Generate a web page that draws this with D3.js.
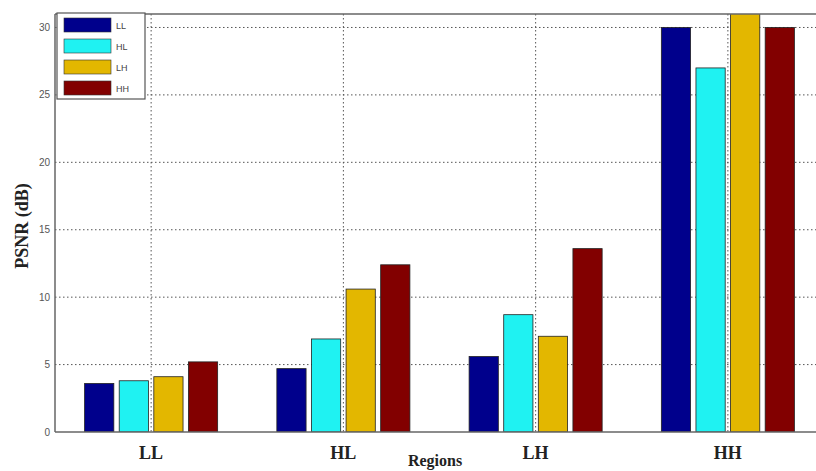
<!DOCTYPE html>
<html>
<head>
<meta charset="utf-8">
<script src="https://cdn.jsdelivr.net/npm/d3@7"></script>
<style>
body { margin: 0; background: #fff; }
svg { display: block; }
</style>
</head>
<body>
<svg id="chart"></svg>
<script>
var width = 816
var height = 471

var regions = ["LL", "HL", "LH", "HH"]
var series = ["LL", "HL", "LH", "HH"]
var colors = ["#00008c", "#1ff2f2", "#e3b700", "#820000"]
// values per region, one per series
var valuesLL = [3.6, 3.8, 4.1, 5.2]
var valuesHL = [4.7, 6.9, 10.6, 12.4]
var valuesLH = [5.6, 8.7, 7.1, 13.6]
var valuesHH = [30, 27, 32, 30]
var yTicks = [0, 5, 10, 15, 20, 25, 30]

var allValues = [valuesLL, valuesHL, valuesLH, valuesHH]

var plotLeft = 55, plotTop = 14, plotRight = 824, plotBottom = 432

var svg = d3.select("#chart")
	.attr("width", width)
	.attr("height", height)

var x = d3.scaleLinear().domain([0.5, 4.5]).range([plotLeft, plotRight])
var y = d3.scaleLinear().domain([0, 31]).range([plotBottom, plotTop])

svg.append("defs").append("clipPath").attr("id", "plotclip")
	.append("rect")
	.attr("x", plotLeft).attr("y", plotTop)
	.attr("width", plotRight - plotLeft).attr("height", plotBottom - plotTop)

// grid
svg.append("g").selectAll("line")
	.data(yTicks.slice(1))
	.join("line")
	.attr("x1", plotLeft).attr("x2", plotRight)
	.attr("y1", function(d){ return y(d) })
	.attr("y2", function(d){ return y(d) })
	.attr("stroke", "#555")
	.attr("stroke-width", 1)
	.attr("stroke-dasharray", "1.5,2.5")

svg.append("g").selectAll("line")
	.data(regions)
	.join("line")
	.attr("x1", function(d, i){ return x(i + 1) })
	.attr("x2", function(d, i){ return x(i + 1) })
	.attr("y1", plotTop).attr("y2", plotBottom)
	.attr("stroke", "#555")
	.attr("stroke-width", 1)
	.attr("stroke-dasharray", "1.5,2.5")

// bars
var barW = 0.152, step = 0.18
var groups = svg.append("g").attr("clip-path", "url(#plotclip)")
	.selectAll("g")
	.data(allValues)
	.join("g")

groups.selectAll("rect")
	.data(function(d, gi){ return d.map(function(v, si){ return {g: gi, s: si, v: v} }) })
	.join("rect")
	.attr("x", function(d){ return x(d.g + 1 + (d.s - 1.5) * step - barW / 2) })
	.attr("width", function(d){ return x(barW) - x(0) })
	.attr("y", function(d){ return y(d.v) })
	.attr("height", function(d){ return y(0) - y(d.v) })
	.attr("fill", function(d){ return colors[d.s] })
	.attr("stroke", "#222")
	.attr("stroke-width", 0.8)

// axes box
svg.append("line").attr("x1", plotLeft).attr("x2", plotLeft).attr("y1", plotTop).attr("y2", plotBottom)
	.attr("stroke", "#666").attr("stroke-width", 1.5)
svg.append("line").attr("x1", plotLeft).attr("x2", plotRight).attr("y1", plotBottom).attr("y2", plotBottom)
	.attr("stroke", "#666").attr("stroke-width", 1.5)
svg.append("line").attr("x1", plotLeft).attr("x2", plotRight).attr("y1", plotTop).attr("y2", plotTop)
	.attr("stroke", "#666").attr("stroke-width", 1.5)

// y tick labels
svg.append("g").selectAll("text")
	.data(yTicks)
	.join("text")
	.attr("x", plotLeft - 5)
	.attr("y", function(d){ return y(d) + 3.5 })
	.attr("text-anchor", "end")
	.attr("font-family", "Liberation Sans, Arial, sans-serif")
	.attr("font-size", 10)
	.attr("fill", "#555")
	.text(function(d){ return d })

// x tick labels
svg.append("g").selectAll("text")
	.data(regions)
	.join("text")
	.attr("x", function(d, i){ return x(i + 1) })
	.attr("y", 459)
	.attr("text-anchor", "middle")
	.attr("font-family", "Liberation Serif, Times New Roman, serif")
	.attr("font-weight", "bold")
	.attr("font-size", 18)
	.attr("fill", "#222")
	.text(function(d){ return d })

svg.append("text")
	.attr("x", 435).attr("y", 466)
	.attr("text-anchor", "middle")
	.attr("font-family", "Liberation Serif, Times New Roman, serif")
	.attr("font-weight", "bold")
	.attr("font-size", 16)
	.attr("fill", "#222")
	.text("Regions")

svg.append("text")
	.attr("transform", "translate(28," + 226 + ") rotate(-90)")
	.attr("text-anchor", "middle")
	.attr("font-family", "Liberation Serif, Times New Roman, serif")
	.attr("font-weight", "bold")
	.attr("font-size", 18)
	.attr("fill", "#222")
	.text("PSNR (dB)")

// legend
var legend = svg.append("g")
legend.append("rect")
	.attr("x", 57).attr("y", 13)
	.attr("width", 88).attr("height", 86)
	.attr("fill", "#fff")
	.attr("stroke", "#555")
	.attr("stroke-width", 1.2)

var items = legend.selectAll("g.item")
	.data(series)
	.join("g")
	.attr("class", "item")
	.attr("transform", function(d, i){ return "translate(0," + (25 + i * 21) + ")" })

items.append("rect")
	.attr("x", 64).attr("y", -7)
	.attr("width", 47).attr("height", 14)
	.attr("fill", function(d, i){ return colors[i] })
	.attr("stroke", "#333")
	.attr("stroke-width", 0.6)

items.append("text")
	.attr("x", 116).attr("y", 3.5)
	.attr("font-family", "Liberation Sans, Arial, sans-serif")
	.attr("font-size", 9)
	.attr("fill", "#444")
	.text(function(d){ return d })
</script>
</body>
</html>
